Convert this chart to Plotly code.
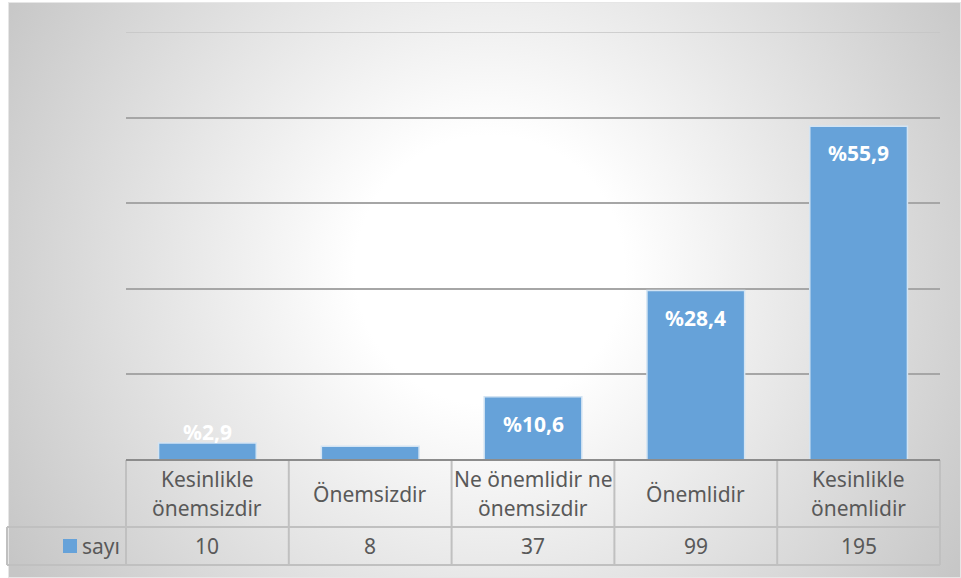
import base64
import plotly.graph_objects as go

# Survey responses and their shares
categories = ["Kesinlikle önemsizdir", "Önemsizdir", "Ne önemlidir ne önemsizdir",
              "Önemlidir", "Kesinlikle önemlidir"]
header_lines = [["Kesinlikle", "önemsizdir"], ["Önemsizdir"],
                ["Ne önemlidir ne", "önemsizdir"], ["Önemlidir"],
                ["Kesinlikle", "önemlidir"]]
counts = [10, 8, 37, 99, 195]
pct_labels = ["%2,9", "", "%10,6", "%28,4", "%55,9"]
series_name = "sayı"
y_ticks = [0, 50, 100, 150, 200, 250]

W, H = 961, 578
BAR = "#66a2d9"
TXT = "#595959"
FONT = "Noto Sans"
GRID = "#a6a6a6"


def px(x):
    return x / W


def py(y):
    return 1 - y / H


# Layout geometry (pixels)
PL, PR = 126, 940          # plot area left/right
BASE, TOP = 460, 32        # baseline and top gridline
HDR_BOT, ROW_BOT = 527, 565
LEG_L = 7

# radial background
svg = f"""<svg xmlns='http://www.w3.org/2000/svg' width='{W}' height='{H}'>
<defs><radialGradient id='g' gradientUnits='userSpaceOnUse' cx='490' cy='270' r='560'>
<stop offset='0' stop-color='#ffffff'/>
<stop offset='0.24' stop-color='#ffffff'/>
<stop offset='0.45' stop-color='#efefef'/>
<stop offset='1' stop-color='#c6c6c6'/>
</radialGradient></defs>
<rect x='8' y='2' width='{W-8}' height='{H-2}' fill='url(#g)'/>
<rect x='8.5' y='2.5' width='{W-9}' height='{H-3}' fill='none' stroke='#e6e6e6' stroke-width='1'/>
</svg>"""
bg_uri = "data:image/svg+xml;base64," + base64.b64encode(svg.encode()).decode()

fig = go.Figure()
fig.add_trace(go.Bar(
    x=list(range(len(categories))), y=counts, name=series_name,
    marker=dict(color=BAR, line=dict(color="#d3e4f3", width=1.5)),
    hovertext=categories, hoverinfo="text+y",
))

shapes = []
annotations = []

# gridline at the top of the value range
shapes.append(dict(type="line", xref="x", yref="y", x0=-0.5, x1=len(categories) - 0.5,
                   y0=y_ticks[-1], y1=y_ticks[-1], line=dict(color="#c4c4c4", width=1.5),
                   layer="below"))

# data labels
for i, (v, lab) in enumerate(zip(counts, pct_labels)):
    if not lab:
        continue
    shift = 11 if v < 15 else -27
    annotations.append(dict(x=i, y=v, xref="x", yref="y", text=f"<b>{lab}</b>",
                            showarrow=False, yshift=shift,
                            font=dict(family=FONT, size=21, color="white")))

# data table
line_c = "#c0c0c0"
cell_w = (PR - PL) / len(categories)
for k in range(len(categories) + 1):
    x = PL + k * cell_w
    shapes.append(dict(type="line", xref="paper", yref="paper", x0=px(x), x1=px(x),
                       y0=py(BASE), y1=py(ROW_BOT), line=dict(color=line_c, width=2)))
shapes.append(dict(type="line", xref="paper", yref="paper", x0=px(LEG_L), x1=px(LEG_L),
                   y0=py(HDR_BOT), y1=py(ROW_BOT), line=dict(color=line_c, width=2)))
shapes.append(dict(type="line", xref="paper", yref="paper", x0=px(LEG_L), x1=px(PR),
                   y0=py(HDR_BOT), y1=py(HDR_BOT), line=dict(color=line_c, width=2)))
shapes.append(dict(type="line", xref="paper", yref="paper", x0=px(LEG_L), x1=px(PR),
                   y0=py(ROW_BOT), y1=py(ROW_BOT), line=dict(color=line_c, width=2)))
shapes.append(dict(type="line", xref="paper", yref="paper", x0=px(PL), x1=px(PR),
                   y0=py(BASE), y1=py(BASE), line=dict(color="#8c8c8c", width=2)))

for i, lines in enumerate(header_lines):
    cx = PL + (i + 0.5) * cell_w
    mid = (BASE + HDR_BOT) / 2
    if len(lines) == 1:
        ys = [mid]
    else:
        ys = [mid - 14.5, mid + 14.5]
    for t, yy in zip(lines, ys):
        annotations.append(dict(x=px(cx), y=py(yy), xref="paper", yref="paper", text=t,
                                showarrow=False, xanchor="center", yanchor="middle",
                                font=dict(family=FONT, size=21, color=TXT)))
    annotations.append(dict(x=px(cx), y=py((HDR_BOT + ROW_BOT) / 2), xref="paper",
                            yref="paper", text=str(counts[i]), showarrow=False,
                            xanchor="center", yanchor="middle",
                            font=dict(family=FONT, size=21, color=TXT)))

# legend key inside the table
ky = (HDR_BOT + ROW_BOT) / 2
shapes.append(dict(type="rect", xref="paper", yref="paper", x0=px(63), x1=px(77),
                   y0=py(ky + 7), y1=py(ky - 7), fillcolor=BAR, line=dict(width=0)))
annotations.append(dict(x=px(80), y=py(ky), xref="paper", yref="paper", text=series_name,
                        showarrow=False, xanchor="left", yanchor="middle",
                        font=dict(family=FONT, size=21, color=TXT)))

fig.update_layout(
    width=W, height=H, margin=dict(l=0, r=0, t=0, b=0),
    paper_bgcolor="white", plot_bgcolor="rgba(0,0,0,0)",
    showlegend=False, bargap=0.4,
    xaxis=dict(domain=[px(PL), px(PR)], range=[-0.5, len(categories) - 0.5],
               showticklabels=False, showgrid=False, zeroline=False, ticks=""),
    yaxis=dict(domain=[py(BASE), py(TOP)], range=[y_ticks[0], y_ticks[-1]],
               tickvals=y_ticks, showticklabels=False, showgrid=True,
               gridcolor=GRID, gridwidth=1.5, zeroline=False),
    images=[dict(source=bg_uri, xref="paper", yref="paper", x=0, y=1,
                 sizex=1, sizey=1, sizing="stretch", layer="below",
                 xanchor="left", yanchor="top")],
    shapes=shapes, annotations=annotations,
)

fig.write_html("out.html")
